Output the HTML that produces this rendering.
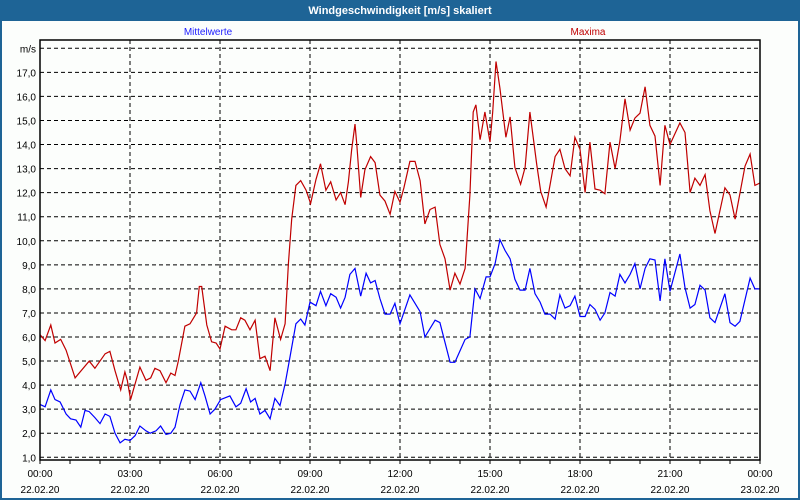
<!DOCTYPE html>
<html><head><meta charset="utf-8"><style>
html,body{margin:0;padding:0;width:800px;height:500px;overflow:hidden;background:#fff}
svg{display:block;font-family:"Liberation Sans",sans-serif}
</style></head><body>
<svg id="chart" width="800" height="500">
<rect x="0" y="0" width="800" height="500" fill="#1e6496"/>
<rect x="2" y="21" width="796" height="477" fill="#fcfefc"/>
<text x="400" y="14" fill="#fff" font-size="11" font-weight="bold" text-anchor="middle">Windgeschwindigkeit [m/s] skaliert</text>
<text x="208" y="35" fill="#2020ff" font-size="10" text-anchor="middle">Mittelwerte</text>
<text x="588" y="35" fill="#c00000" font-size="10" text-anchor="middle">Maxima</text>
<g id="grid"></g><g id="series"></g><g id="axes"></g>
</svg>
<script>
const yTicks=[1,2,3,4,5,6,7,8,9,10,11,12,13,14,15,16,17];
const yTickLabels=["1,0","2,0","3,0","4,0","5,0","6,0","7,0","8,0","9,0","10,0","11,0","12,0","13,0","14,0","15,0","16,0","17,0"];
const xTicks=[0,3,6,9,12,15,18,21,24];
const xTimeLabels=["00:00","03:00","06:00","09:00","12:00","15:00","18:00","21:00","00:00"];
const xDateLabels=["22.02.20","22.02.20","22.02.20","22.02.20","22.02.20","22.02.20","22.02.20","22.02.20","23.02.20"];
const maxHours=[0,0.17,0.36,0.5,0.69,0.87,1.17,1.64,1.83,2.17,2.33,2.5,2.69,2.83,2.91,3.02,3.33,3.53,3.69,3.83,4.0,4.2,4.36,4.5,4.61,4.83,5.0,5.22,5.31,5.39,5.56,5.72,5.87,6.0,6.17,6.39,6.53,6.69,6.83,7.0,7.17,7.33,7.5,7.67,7.83,8.02,8.17,8.28,8.39,8.53,8.69,8.87,9.02,9.2,9.35,9.53,9.69,9.87,10.02,10.17,10.28,10.39,10.5,10.56,10.69,10.83,11.02,11.17,11.33,11.5,11.67,11.83,12.0,12.13,12.33,12.5,12.67,12.83,13.0,13.17,13.33,13.5,13.67,13.83,14.0,14.17,14.33,14.44,14.53,14.67,14.83,15.0,15.09,15.2,15.33,15.53,15.67,15.83,16.02,16.17,16.33,16.56,16.69,16.87,17.17,17.33,17.5,17.67,17.83,18.0,18.17,18.33,18.5,18.67,18.83,19.0,19.17,19.33,19.5,19.67,19.83,20.0,20.17,20.33,20.5,20.67,20.83,21.0,21.33,21.5,21.67,21.83,22.0,22.17,22.33,22.5,22.83,23.0,23.17,23.5,23.67,23.83,24.0];
const maxValues=[6.1,5.85,6.5,5.75,5.9,5.45,4.3,5.0,4.7,5.3,5.4,4.6,3.8,4.55,4.2,3.4,4.75,4.2,4.3,4.7,4.6,4.1,4.5,4.4,5.0,6.45,6.55,7.0,8.1,8.1,6.5,5.8,5.75,5.5,6.45,6.3,6.3,6.8,6.7,6.3,6.7,5.1,5.2,4.6,6.8,5.9,6.55,9.05,10.9,12.3,12.5,12.1,11.55,12.55,13.2,12.1,12.45,11.7,12.0,11.5,12.45,13.8,14.85,14.0,11.8,12.95,13.5,13.25,11.9,11.65,11.1,12.05,11.6,12.2,13.3,13.3,12.5,10.7,11.3,11.4,9.85,9.25,7.95,8.65,8.2,8.85,11.9,15.35,15.65,14.2,15.35,14.1,15.35,17.45,16.35,14.3,15.15,13.05,12.35,13.05,15.35,13.15,12.05,11.4,13.5,13.8,13.0,12.7,14.3,13.8,12.0,14.1,12.15,12.1,11.95,14.1,13.0,14.15,15.9,14.6,15.1,15.3,16.4,14.8,14.35,12.3,14.8,14.0,14.9,14.5,12.0,12.6,12.3,12.75,11.25,10.3,12.2,11.9,10.9,13.1,13.6,12.3,12.4];
const meanHours=[0,0.17,0.36,0.5,0.67,0.87,1.02,1.2,1.36,1.5,1.64,1.83,2.0,2.17,2.33,2.5,2.67,2.83,3.0,3.17,3.33,3.53,3.67,3.87,4.02,4.2,4.36,4.5,4.67,4.83,5.0,5.17,5.36,5.5,5.67,5.83,6.02,6.33,6.53,6.69,6.87,7.02,7.17,7.33,7.5,7.67,7.83,8.0,8.17,8.33,8.53,8.69,8.83,9.0,9.2,9.35,9.53,9.69,9.87,10.02,10.17,10.33,10.5,10.69,10.87,11.02,11.17,11.33,11.5,11.67,11.83,12.0,12.33,12.67,12.83,13.17,13.33,13.67,13.83,14.17,14.33,14.5,14.67,14.87,15.0,15.17,15.33,15.5,15.67,15.83,16.0,16.17,16.33,16.5,16.67,16.83,17.0,17.17,17.33,17.5,17.67,17.83,18.0,18.17,18.33,18.5,18.67,18.83,19.0,19.17,19.33,19.5,19.67,19.83,20.0,20.17,20.33,20.5,20.67,20.83,21.0,21.33,21.5,21.67,21.83,22.0,22.17,22.33,22.5,22.83,23.0,23.17,23.33,23.67,23.83,24.0];
const meanValues=[3.2,3.1,3.8,3.4,3.3,2.8,2.6,2.55,2.25,2.95,2.9,2.65,2.4,2.8,2.7,2.0,1.6,1.75,1.7,1.9,2.3,2.1,2.0,2.1,2.3,1.95,2.0,2.25,3.2,3.8,3.75,3.4,4.1,3.55,2.8,3.0,3.4,3.55,3.1,3.25,3.85,3.3,3.45,2.8,2.95,2.6,3.45,3.15,4.05,5.15,6.55,6.75,6.5,7.45,7.3,7.9,7.3,7.8,7.65,7.2,7.65,8.6,8.85,7.7,8.65,8.25,8.35,7.6,6.95,6.95,7.4,6.55,7.75,7.05,6.0,6.7,6.6,4.95,4.95,5.9,6.0,8.0,7.6,8.5,8.5,9.05,10.05,9.6,9.25,8.4,7.95,7.95,8.85,7.8,7.45,6.95,6.95,6.75,7.75,7.2,7.3,7.7,6.85,6.85,7.35,7.15,6.7,7.0,7.85,7.7,8.6,8.25,8.6,9.05,8.0,8.85,9.25,9.2,7.5,9.25,7.9,9.45,8.05,7.2,7.35,8.15,7.95,6.8,6.6,7.8,6.6,6.45,6.65,8.45,8.0,8.0];

const L=40,R=760,T=40,B=460;
const xs=h=>L+h*(R-L)/24;
const ys=v=>457.3-(v-1)*24.06;
const NS="http://www.w3.org/2000/svg";
function mk(tag,attrs,parent){const e=document.createElementNS(NS,tag);for(const k in attrs)e.setAttribute(k,attrs[k]);parent.appendChild(e);return e;}
const grid=document.getElementById('grid'),axes=document.getElementById('axes'),series=document.getElementById('series');
// horizontal gridlines incl. 18 (m/s)
yTicks.concat([18]).forEach((v,i)=>{
  const l=mk('line',{x1:L,x2:R,y1:ys(v),y2:ys(v),stroke:'#000','stroke-dasharray':'4,3','stroke-width':1},grid);
  
  
  const t=mk('text',{x:L-4,y:ys(v)+4,'font-size':10,'text-anchor':'end',fill:'#000'},axes);
  t.textContent=v===18?'m/s':yTickLabels[i];
  
  
});
for(let h=0;h<=24;h++){
  const tk=mk('line',{x1:xs(h),x2:xs(h),y1:B,y2:B+4,stroke:'#000'},axes);
  
  
}
xTicks.forEach((h,i)=>{
  if(h>0&&h<24){const g=mk('line',{x1:xs(h),x2:xs(h),y1:T,y2:B,stroke:'#000','stroke-dasharray':'4,3'},grid);
  
  }
  const t1=mk('text',{x:xs(h),y:477,'font-size':10,'text-anchor':'middle',fill:'#000'},axes);
  t1.textContent=xTimeLabels[i];
  
  
  const t2=mk('text',{x:xs(h),y:493,'font-size':10,'text-anchor':'middle',fill:'#000'},axes);
  t2.textContent=xDateLabels[i];
  
  
});
const fr=mk('rect',{x:L,y:T,width:R-L,height:B-T,fill:'none',stroke:'#000','stroke-width':1.5},axes);


function line(hs,vs,col,name){
  const p=mk('polyline',{points:hs.map((h,i)=>xs(h).toFixed(1)+','+ys(vs[i]).toFixed(1)).join(' '),fill:'none',stroke:col,'stroke-width':1.2},series);
  
  
}
line(maxHours,maxValues,'#c00000','maxima-line');
line(meanHours,meanValues,'#0000ff','mittelwerte-line');
</script>
</body></html>
